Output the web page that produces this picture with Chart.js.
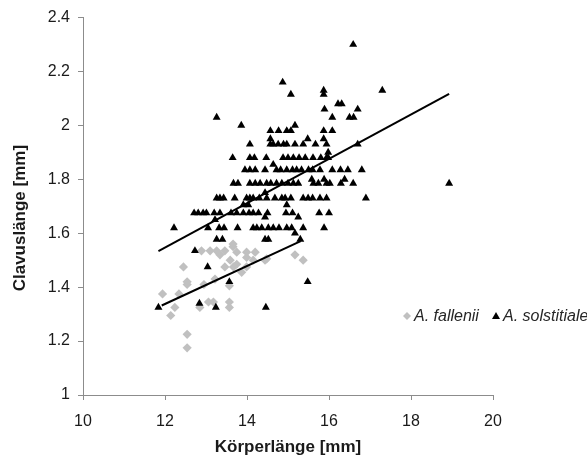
<!DOCTYPE html>
<html>
<head>
<meta charset="utf-8">
<script src="https://cdn.jsdelivr.net/npm/chart.js@4/dist/chart.umd.min.js"></script>
<style>
  body { margin: 0; background: #fff; }
</style>
</head>
<body>
<canvas id="myChart" width="587" height="463"></canvas>
<script>
// A. fallenii (graue Rauten)
const fallX = [12.45, 12.54, 12.54, 11.94, 12.34, 12.24, 12.14, 12.54, 12.54, 12.85,
               13.06, 13.18, 13.57, 13.57, 12.95, 13.22, 13.46, 13.67, 13.87, 13.99,
               13.57, 14.44, 15.17, 15.37, 13.66, 12.89, 13.10, 13.26, 13.46, 13.75,
               13.99, 14.20, 13.59, 13.75, 13.99, 14.15, 14.48, 13.66, 13.34];
const fallY = [1.475, 1.42, 1.41, 1.375, 1.375, 1.325, 1.295, 1.225, 1.175, 1.325,
               1.345, 1.345, 1.345, 1.325, 1.41, 1.43, 1.475, 1.475, 1.455, 1.475,
               1.405, 1.50, 1.52, 1.50, 1.56, 1.535, 1.535, 1.535, 1.535, 1.53,
               1.53, 1.53, 1.50, 1.485, 1.51, 1.50, 1.505, 1.55, 1.52];

// A. solstitiale (schwarze Dreiecke)
const solX = [
  16.59,
  14.87,
  15.87, 17.30,
  15.07, 15.87,
  16.22, 16.31,
  15.89, 16.70,
  13.26, 16.08, 16.50, 16.60,
  13.86, 15.17,
  14.57, 14.77, 14.97, 15.07, 15.87, 16.08,
  14.57, 15.48, 15.87,
  14.07, 14.57, 14.64, 14.76, 14.89, 14.97, 15.17, 15.37, 15.67, 15.94, 16.70,
  15.98,
  13.65, 14.07, 14.18, 14.47, 14.88, 15.00, 15.13, 15.27, 15.42, 15.61, 15.80, 15.94, 15.98,
  14.64,
  13.95, 14.07, 14.20, 14.44, 14.72, 14.82, 14.97, 15.11, 15.21, 15.33, 15.50, 15.60, 15.78, 16.08, 16.28, 16.46, 16.80,
  15.58, 15.88, 16.38,
  13.67, 13.78, 14.07, 14.20, 14.32, 14.48, 14.58, 14.72, 14.85, 15.00, 15.13, 15.25, 15.62, 15.74, 15.94, 16.02, 16.29, 16.59, 18.93,
  14.44,
  13.26, 13.34, 13.43, 13.70, 13.99, 14.07, 14.15, 14.30, 14.48, 14.68, 14.85, 14.93, 15.07, 15.37, 15.49, 15.60, 15.78, 15.94, 16.90,
  13.91, 14.03, 14.97,
  12.71, 12.81, 12.93, 13.01, 13.20, 13.34, 13.61, 13.75, 13.91, 14.05, 14.15, 14.28, 14.50, 14.95, 15.11, 15.76, 16.00,
  14.44, 15.25,
  13.22,
  12.22, 13.05, 13.32, 13.44, 13.77, 14.15, 14.24, 14.36, 14.52, 14.64, 14.78, 14.97, 15.09, 15.37, 15.88,
  15.17,
  13.26, 13.40, 14.44, 14.52, 15.30,
  12.73,
  13.04,
  13.57, 15.48,
  12.84,
  11.84, 13.24, 14.46
];
const solY = [
  2.30,
  2.16,
  2.13, 2.13,
  2.115, 2.115,
  2.08, 2.08,
  2.06, 2.06,
  2.03, 2.03, 2.03, 2.03,
  2.00, 2.00,
  1.98, 1.98, 1.98, 1.98, 1.98, 1.98,
  1.95, 1.95, 1.95,
  1.93, 1.93, 1.93, 1.93, 1.93, 1.93, 1.93, 1.93, 1.93, 1.93, 1.93,
  1.90,
  1.88, 1.88, 1.88, 1.88, 1.88, 1.88, 1.88, 1.88, 1.88, 1.88, 1.88, 1.88, 1.88,
  1.855,
  1.835, 1.835, 1.835, 1.835, 1.835, 1.835, 1.835, 1.835, 1.835, 1.835, 1.835, 1.835, 1.835, 1.835, 1.835, 1.835, 1.835,
  1.80, 1.80, 1.80,
  1.785, 1.785, 1.785, 1.785, 1.785, 1.785, 1.785, 1.785, 1.785, 1.785, 1.785, 1.785, 1.785, 1.785, 1.785, 1.785, 1.785, 1.785, 1.785,
  1.75,
  1.73, 1.73, 1.73, 1.73, 1.73, 1.73, 1.73, 1.73, 1.73, 1.73, 1.73, 1.73, 1.73, 1.73, 1.73, 1.73, 1.73, 1.73, 1.73,
  1.705, 1.705, 1.705,
  1.675, 1.675, 1.675, 1.675, 1.675, 1.675, 1.675, 1.675, 1.675, 1.675, 1.675, 1.675, 1.675, 1.675, 1.675, 1.675, 1.675,
  1.66, 1.66,
  1.65,
  1.62, 1.62, 1.62, 1.62, 1.62, 1.62, 1.62, 1.62, 1.62, 1.62, 1.62, 1.62, 1.62, 1.62, 1.62,
  1.60,
  1.577, 1.577, 1.577, 1.577, 1.577,
  1.535,
  1.475,
  1.42, 1.42,
  1.34,
  1.325, 1.325, 1.325
];

// Trendlinien (Endpunkte)
const trendFallX = [11.92, 15.31];
const trendFallY = [1.332, 1.571];
const trendSolX = [11.84, 18.93];
const trendSolY = [1.534, 2.117];

const seriesNames = ['A. fallenii', 'A. solstitiale'];
const xTicks = ['10', '12', '14', '16', '18', '20'];
const yTicks = ['1', '1.2', '1.4', '1.6', '1.8', '2', '2.2', '2.4'];

const toPoints = (xs, ys) => xs.map((x, i) => ({ x: x, y: ys[i] }));

const axisGrey = '#8c8c8c';
const textCol = '#1a1a1a';
const fontFam = '"Liberation Sans", Arial, sans-serif';

// Legende im Diagrammbereich unten rechts
const legendInside = {
  id: 'legendInside',
  afterDraw(chart) {
    const ctx = chart.ctx;
    const area = chart.chartArea;
    const y = area.bottom - 79;
    const items = [
      { x: area.right - 86, color: '#c0c0c0', shape: 'diamond' },
      { x: area.right + 3, color: '#000000', shape: 'triangle' }
    ];
    ctx.save();
    ctx.font = 'italic 16px ' + fontFam;
    ctx.textBaseline = 'middle';
    items.forEach((it, i) => {
      ctx.fillStyle = it.color;
      ctx.beginPath();
      if (it.shape === 'diamond') {
        ctx.moveTo(it.x, y - 4); ctx.lineTo(it.x + 4, y);
        ctx.lineTo(it.x, y + 4); ctx.lineTo(it.x - 4, y);
      } else {
        ctx.moveTo(it.x, y - 4); ctx.lineTo(it.x + 4, y + 3);
        ctx.lineTo(it.x - 4, y + 3);
      }
      ctx.closePath();
      ctx.fill();
      ctx.fillStyle = '#262626';
      ctx.fillText(seriesNames[i], it.x + 7, y + 1);
    });
    ctx.restore();
  }
};

const ctx = document.querySelector('#myChart').getContext('2d');
const myChart = new Chart(ctx, {
  type: 'scatter',
  data: {
    datasets: [
      {
        label: 'Trend fallenii',
        data: toPoints(trendFallX, trendFallY),
        showLine: true,
        borderColor: '#000',
        borderWidth: 2,
        pointRadius: 0,
        order: 0
      },
      {
        label: 'Trend solstitiale',
        data: toPoints(trendSolX, trendSolY),
        showLine: true,
        borderColor: '#000',
        borderWidth: 2,
        pointRadius: 0,
        order: 0
      },
      {
        label: seriesNames[1],
        data: toPoints(solX, solY),
        pointStyle: 'triangle',
        pointRadius: 4.6,
        backgroundColor: '#000',
        borderColor: '#000',
        borderWidth: 0,
        order: 1
      },
      {
        label: seriesNames[0],
        data: toPoints(fallX, fallY),
        pointStyle: 'rectRot',
        pointRadius: 4.6,
        backgroundColor: '#c0c0c0',
        borderColor: '#c0c0c0',
        borderWidth: 0,
        order: 2
      }
    ]
  },
  options: {
    responsive: false,
    animation: false,
    layout: { padding: { left: 0, right: 94, top: 15, bottom: 0 } },
    plugins: {
      legend: { display: false },
      tooltip: { enabled: false }
    },
    scales: {
      x: {
        type: 'linear',
        min: 10,
        max: 20,
        afterFit: (s) => { s.height = 68; },
        ticks: {
          stepSize: 2,
          color: textCol,
          padding: 12,
          maxRotation: 0,
          font: { family: fontFam, size: 16 },
          callback: (v, i) => xTicks[i]
        },
        grid: { drawOnChartArea: false, drawTicks: true, tickLength: 5, color: axisGrey },
        border: { color: axisGrey, width: 1 },
        title: {
          display: true,
          text: 'Körperlänge [mm]',
          color: textCol,
          font: { family: fontFam, size: 17, weight: 'bold' },
          padding: { top: 0, bottom: 5 }
        }
      },
      y: {
        type: 'linear',
        min: 1,
        max: 2.4,
        afterFit: (s) => { s.width = 83; },
        ticks: {
          stepSize: 0.2,
          color: textCol,
          padding: 8,
          font: { family: fontFam, size: 16 },
          callback: (v, i) => yTicks[i]
        },
        grid: { drawOnChartArea: false, drawTicks: true, tickLength: 5, color: axisGrey },
        border: { color: axisGrey, width: 1 },
        title: {
          display: true,
          text: 'Clavuslänge [mm]\u00A0\u00A0\u00A0\u00A0\u00A0',
          color: textCol,
          font: { family: fontFam, size: 17, weight: 'bold' },
          padding: { top: 10, bottom: 0 }
        }
      }
    }
  },
  plugins: [legendInside]
});
</script>
</body>
</html>
